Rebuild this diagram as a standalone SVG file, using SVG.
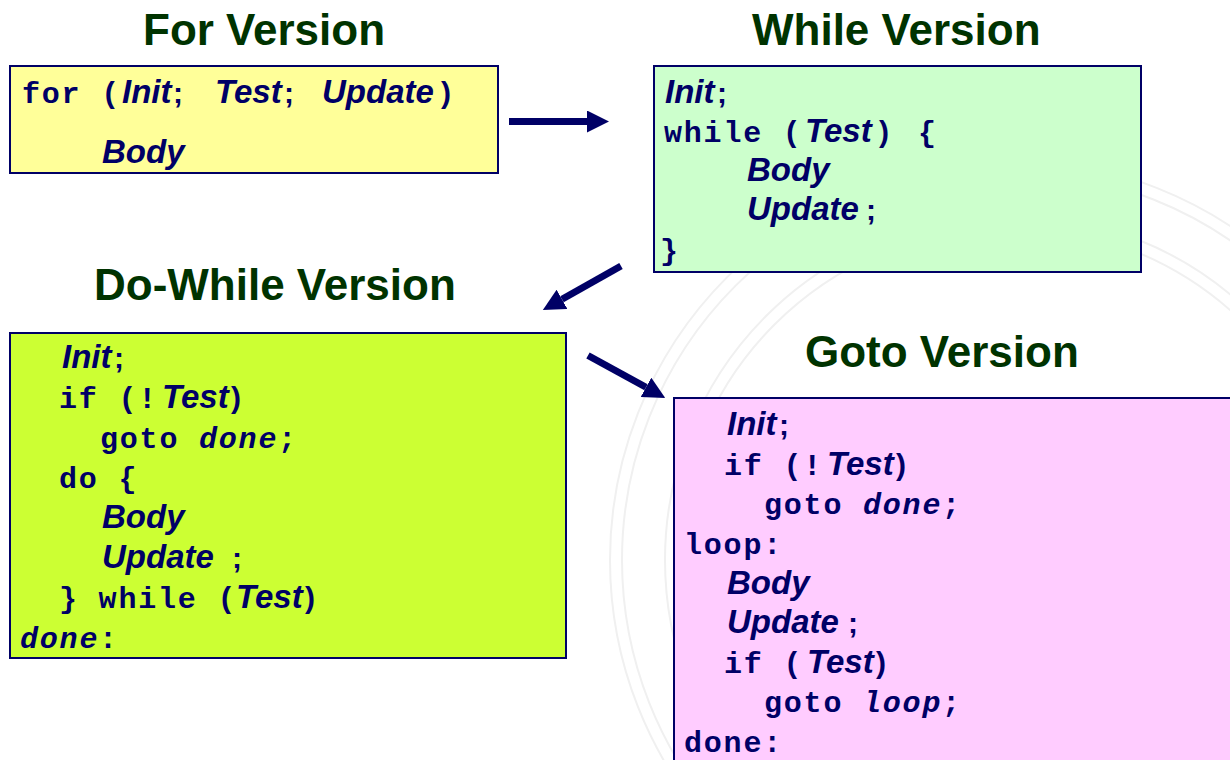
<svg xmlns="http://www.w3.org/2000/svg" width="1230" height="760" viewBox="0 0 1230 760">
<style>
.t{font-family:"Liberation Sans",Arial,sans-serif;font-weight:bold;font-size:44px;fill:#003300}
.m{font-family:"Liberation Mono","Courier New",monospace;font-weight:bold;font-size:30px;letter-spacing:1.8px;fill:#000066}
.mi{font-family:"Liberation Mono","Courier New",monospace;font-weight:bold;font-style:italic;font-size:30px;letter-spacing:1.8px;fill:#000066}
.i{font-family:"Liberation Sans",Arial,sans-serif;font-weight:bold;font-style:italic;font-size:33px;fill:#000066}
.s{font-family:"Liberation Sans",Arial,sans-serif;font-weight:bold;font-size:30px;fill:#000066}
.box{stroke:#000066;stroke-width:2}
.wm{fill:none;stroke:#f0f0f0;stroke-width:2}
.arr{stroke:#000066;stroke-width:7;fill:none}
</style>
<defs>
<marker id="ah" markerUnits="userSpaceOnUse" markerWidth="22" markerHeight="22" refX="0" refY="11" orient="auto">
<path d="M0,0 L22,11 L0,22 Z" fill="#000066"/>
</marker>
</defs>
<rect width="1230" height="760" fill="#ffffff"/>
<g id="watermark">
<circle class="wm" cx="1010" cy="560" r="400"/>
<circle class="wm" cx="1010" cy="560" r="388"/>
<circle class="wm" cx="1010" cy="560" r="345"/>
<circle class="wm" cx="1010" cy="560" r="333"/>
</g>
<g id="titles">
<text class="t" x="143" y="45">For Version</text>
<text class="t" x="752" y="45">While Version</text>
<text class="t" x="94" y="300">Do-While Version</text>
<text class="t" x="805" y="367">Goto Version</text>
</g>
<g id="for-box">
<rect class="box" x="10" y="66" width="488" height="107" fill="#ffff99"/>
<text class="m" x="22" y="103">for (</text>
<text class="i" x="122" y="103">Init</text><text class="s" x="173" y="103">;</text>
<text class="i" x="215" y="103">Test</text><text class="s" x="284" y="103">;</text>
<text class="i" x="322" y="103">Update</text><text class="s" x="441" y="103">)</text>
<text class="i" x="102" y="163">Body</text>
</g>
<g id="while-box">
<rect class="box" x="654" y="66" width="487" height="206" fill="#ccffcc"/>
<text class="i" x="665" y="103">Init</text><text class="s" x="717" y="103">;</text>
<text class="m" x="664" y="142">while (</text>
<text class="i" x="805" y="142">Test</text><text class="s" x="879" y="142">)</text>
<text class="m" x="918" y="142">{</text>
<text class="i" x="747" y="181">Body</text>
<text class="i" x="747" y="220">Update</text><text class="s" x="866" y="220">;</text>
<text class="m" x="660" y="260">}</text>
</g>
<g id="dowhile-box">
<rect class="box" x="10" y="333" width="556" height="325" fill="#ccff33"/>
<text class="i" x="62" y="368">Init</text><text class="s" x="114" y="368">;</text>
<text class="m" x="59" y="408">if (!</text>
<text class="i" x="162" y="408">Test</text><text class="s" x="231" y="408">)</text>
<text class="m" x="100" y="448">goto</text>
<text class="mi" x="199" y="448">done</text><text class="m" x="278" y="448">;</text>
<text class="m" x="59" y="488">do {</text>
<text class="i" x="102" y="528">Body</text>
<text class="i" x="102" y="568">Update</text><text class="s" x="232" y="568">;</text>
<text class="m" x="59" y="608">} while (</text>
<text class="i" x="236" y="608">Test</text><text class="s" x="305" y="608">)</text>
<text class="mi" x="20" y="648">done</text><text class="m" x="99" y="648">:</text>
</g>
<g id="goto-box">
<rect class="box" x="674" y="398" width="570" height="380" fill="#ffccff"/>
<text class="i" x="727" y="435">Init</text><text class="s" x="779" y="435">;</text>
<text class="m" x="724" y="475">if (!</text>
<text class="i" x="827" y="475">Test</text><text class="s" x="896" y="475">)</text>
<text class="m" x="764" y="514">goto</text>
<text class="mi" x="863" y="514">done</text><text class="m" x="942" y="514">;</text>
<text class="m" x="684" y="554">loop:</text>
<text class="i" x="727" y="594">Body</text>
<text class="i" x="727" y="633">Update</text><text class="s" x="848" y="633">;</text>
<text class="m" x="724" y="673">if (</text>
<text class="i" x="807" y="673">Test</text><text class="s" x="876" y="673">)</text>
<text class="m" x="764" y="712">goto</text>
<text class="mi" x="863" y="712">loop</text><text class="m" x="942" y="712">;</text>
<text class="m" x="684" y="752">done:</text>
</g>
<g id="connectors">
<line class="arr" x1="509" y1="121.5" x2="587" y2="121.5" marker-end="url(#ah)"/>
<line class="arr" x1="621" y1="266" x2="562" y2="299.3" marker-end="url(#ah)"/>
<line class="arr" x1="588" y1="355.5" x2="646" y2="387.3" marker-end="url(#ah)"/>
</g>
</svg>
